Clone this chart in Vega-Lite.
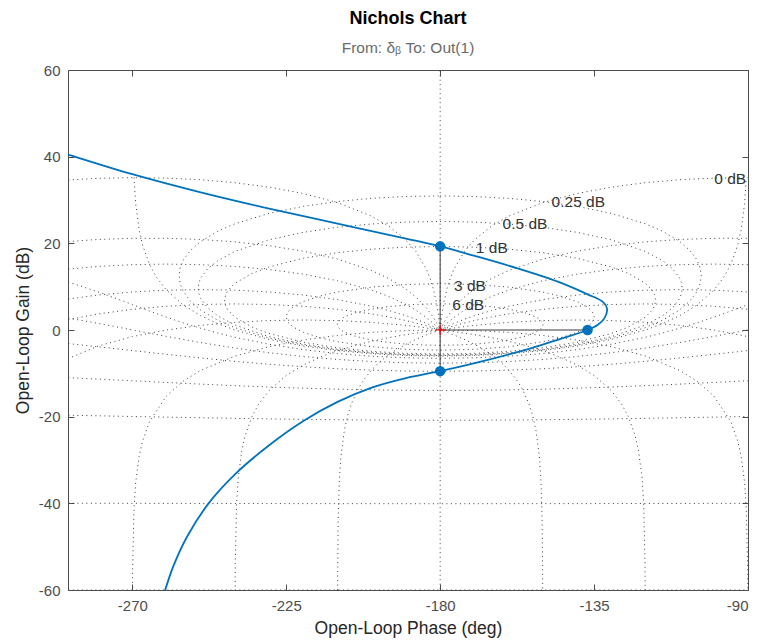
{
  "$schema": "https://vega.github.io/schema/vega-lite/v6.json",
  "width": 680,
  "height": 520,
  "autosize": {"type": "none"},
  "padding": {"left": 68, "top": 70, "right": 13, "bottom": 51},
  "background": "white",
  "config": {
    "font": "Liberation Sans",
    "view": {"stroke": "#4d4d4d", "strokeWidth": 1},
    "axis": {
      "grid": false,
      "domain": false,
      "ticks": true,
      "tickSize": -6,
      "tickColor": "#4d4d4d",
      "labelColor": "#4d4d4d",
      "labelFont": "Liberation Sans",
      "labelFontSize": 15,
      "labelPadding": 14,
      "labelExpr": "'' + datum.value",
      "titleFont": "Liberation Sans",
      "titleFontSize": 17.5,
      "titleFontWeight": "normal",
      "titleColor": "#262626",
      "zindex": 1
    }
  },
  "title": {
    "text": "Nichols Chart",
    "subtitle": "From: δᵦ  To: Out(1)",
    "anchor": "middle",
    "frame": "group",
    "font": "Liberation Sans",
    "fontSize": 18,
    "fontWeight": "bold",
    "color": "#000000",
    "subtitleFont": "Liberation Sans",
    "subtitleFontSize": 15.5,
    "subtitleColor": "#6b6b6b",
    "subtitlePadding": 13,
    "offset": 7
  },
  "datasets": {
    "grid": [
      {"curve": "n1", "phase": -290, "gain": 34.57}, {"curve": "n1", "phase": -280, "gain": 35.0}, {"curve": "n1", "phase": -270, "gain": 35.16}, {"curve": "n1", "phase": -260, "gain": 35.05}, {"curve": "n1", "phase": -250, "gain": 34.68}, {"curve": "n1", "phase": -240, "gain": 34.0}, {"curve": "n1", "phase": -230, "gain": 32.97}, {"curve": "n1", "phase": -220, "gain": 31.5}, {"curve": "n1", "phase": -210, "gain": 29.4}, {"curve": "n1", "phase": -200, "gain": 26.25}, {"curve": "n1", "phase": -195, "gain": 23.97}, {"curve": "n1", "phase": -190, "gain": 20.77}, {"curve": "n1", "phase": -187, "gain": 18.03}, {"curve": "n1", "phase": -184, "gain": 13.97}, {"curve": "n1", "phase": -183, "gain": 12.03}, {"curve": "n1", "phase": -182, "gain": 9.54}, {"curve": "n1", "phase": -181, "gain": 6.02}, {"curve": "n1", "phase": -180.5, "gain": 3.52}, {"curve": "n1", "phase": -180, "gain": 0}, {"curve": "n1", "phase": -179.5, "gain": 3.52}, {"curve": "n1", "phase": -179, "gain": 6.02}, {"curve": "n1", "phase": -178, "gain": 9.54}, {"curve": "n1", "phase": -177, "gain": 12.03}, {"curve": "n1", "phase": -176, "gain": 13.97}, {"curve": "n1", "phase": -173, "gain": 18.03}, {"curve": "n1", "phase": -170, "gain": 20.77}, {"curve": "n1", "phase": -165, "gain": 23.97}, {"curve": "n1", "phase": -160, "gain": 26.25}, {"curve": "n1", "phase": -150, "gain": 29.4}, {"curve": "n1", "phase": -140, "gain": 31.5}, {"curve": "n1", "phase": -130, "gain": 32.97}, {"curve": "n1", "phase": -120, "gain": 34.0}, {"curve": "n1", "phase": -110, "gain": 34.68}, {"curve": "n1", "phase": -100, "gain": 35.05}, {"curve": "n1", "phase": -90, "gain": 35.16}, {"curve": "n1", "phase": -80, "gain": 35.0},

      {"curve": "n5", "phase": -290, "gain": 20.34}, {"curve": "n5", "phase": -280, "gain": 20.89}, {"curve": "n5", "phase": -270, "gain": 21.16}, {"curve": "n5", "phase": -260, "gain": 21.16}, {"curve": "n5", "phase": -250, "gain": 20.89}, {"curve": "n5", "phase": -240, "gain": 20.34}, {"curve": "n5", "phase": -230, "gain": 19.46}, {"curve": "n5", "phase": -220, "gain": 18.18}, {"curve": "n5", "phase": -210, "gain": 16.37}, {"curve": "n5", "phase": -200, "gain": 13.71}, {"curve": "n5", "phase": -195, "gain": 11.88}, {"curve": "n5", "phase": -190, "gain": 9.45}, {"curve": "n5", "phase": -187, "gain": 7.55}, {"curve": "n5", "phase": -184, "gain": 5.08}, {"curve": "n5", "phase": -182, "gain": 2.91}, {"curve": "n5", "phase": -181, "gain": 1.58}, {"curve": "n5", "phase": -180, "gain": 0}, {"curve": "n5", "phase": -179, "gain": 1.58}, {"curve": "n5", "phase": -178, "gain": 2.91}, {"curve": "n5", "phase": -176, "gain": 5.08}, {"curve": "n5", "phase": -173, "gain": 7.55}, {"curve": "n5", "phase": -170, "gain": 9.45}, {"curve": "n5", "phase": -165, "gain": 11.88}, {"curve": "n5", "phase": -160, "gain": 13.71}, {"curve": "n5", "phase": -150, "gain": 16.37}, {"curve": "n5", "phase": -140, "gain": 18.18}, {"curve": "n5", "phase": -130, "gain": 19.46}, {"curve": "n5", "phase": -120, "gain": 20.34}, {"curve": "n5", "phase": -110, "gain": 20.89}, {"curve": "n5", "phase": -100, "gain": 21.16}, {"curve": "n5", "phase": -90, "gain": 21.16}, {"curve": "n5", "phase": -80, "gain": 20.89},

      {"curve": "n10", "phase": -290, "gain": 13.96}, {"curve": "n10", "phase": -280, "gain": 14.67}, {"curve": "n10", "phase": -270, "gain": 15.07}, {"curve": "n10", "phase": -260, "gain": 15.21}, {"curve": "n10", "phase": -250, "gain": 15.07}, {"curve": "n10", "phase": -240, "gain": 14.67}, {"curve": "n10", "phase": -230, "gain": 13.96}, {"curve": "n10", "phase": -220, "gain": 12.89}, {"curve": "n10", "phase": -210, "gain": 11.37}, {"curve": "n10", "phase": -200, "gain": 9.19}, {"curve": "n10", "phase": -195, "gain": 7.73}, {"curve": "n10", "phase": -190, "gain": 5.89}, {"curve": "n10", "phase": -187, "gain": 4.53}, {"curve": "n10", "phase": -184, "gain": 2.88}, {"curve": "n10", "phase": -182, "gain": 1.56}, {"curve": "n10", "phase": -180, "gain": 0}, {"curve": "n10", "phase": -178, "gain": 1.56}, {"curve": "n10", "phase": -176, "gain": 2.88}, {"curve": "n10", "phase": -173, "gain": 4.53}, {"curve": "n10", "phase": -170, "gain": 5.89}, {"curve": "n10", "phase": -165, "gain": 7.73}, {"curve": "n10", "phase": -160, "gain": 9.19}, {"curve": "n10", "phase": -150, "gain": 11.37}, {"curve": "n10", "phase": -140, "gain": 12.89}, {"curve": "n10", "phase": -130, "gain": 13.96}, {"curve": "n10", "phase": -120, "gain": 14.67}, {"curve": "n10", "phase": -110, "gain": 15.07}, {"curve": "n10", "phase": -100, "gain": 15.21}, {"curve": "n10", "phase": -90, "gain": 15.07}, {"curve": "n10", "phase": -80, "gain": 14.67},

      {"curve": "n20", "phase": -290, "gain": 7.0}, {"curve": "n20", "phase": -280, "gain": 8.07}, {"curve": "n20", "phase": -270, "gain": 8.78}, {"curve": "n20", "phase": -260, "gain": 9.19}, {"curve": "n20", "phase": -250, "gain": 9.32}, {"curve": "n20", "phase": -240, "gain": 9.19}, {"curve": "n20", "phase": -230, "gain": 8.78}, {"curve": "n20", "phase": -220, "gain": 8.07}, {"curve": "n20", "phase": -210, "gain": 7.0}, {"curve": "n20", "phase": -200, "gain": 5.48}, {"curve": "n20", "phase": -195, "gain": 4.49}, {"curve": "n20", "phase": -190, "gain": 3.3}, {"curve": "n20", "phase": -187, "gain": 2.46}, {"curve": "n20", "phase": -184, "gain": 1.51}, {"curve": "n20", "phase": -182, "gain": 0.79}, {"curve": "n20", "phase": -180, "gain": 0}, {"curve": "n20", "phase": -178, "gain": 0.79}, {"curve": "n20", "phase": -176, "gain": 1.51}, {"curve": "n20", "phase": -173, "gain": 2.46}, {"curve": "n20", "phase": -170, "gain": 3.3}, {"curve": "n20", "phase": -165, "gain": 4.49}, {"curve": "n20", "phase": -160, "gain": 5.48}, {"curve": "n20", "phase": -150, "gain": 7.0}, {"curve": "n20", "phase": -140, "gain": 8.07}, {"curve": "n20", "phase": -130, "gain": 8.78}, {"curve": "n20", "phase": -120, "gain": 9.19}, {"curve": "n20", "phase": -110, "gain": 9.32}, {"curve": "n20", "phase": -100, "gain": 9.19}, {"curve": "n20", "phase": -90, "gain": 8.78}, {"curve": "n20", "phase": -80, "gain": 8.07},

      {"curve": "n30", "phase": -290, "gain": 2.18}, {"curve": "n30", "phase": -280, "gain": 3.71}, {"curve": "n30", "phase": -270, "gain": 4.77}, {"curve": "n30", "phase": -260, "gain": 5.48}, {"curve": "n30", "phase": -250, "gain": 5.89}, {"curve": "n30", "phase": -240, "gain": 6.02}, {"curve": "n30", "phase": -230, "gain": 5.89}, {"curve": "n30", "phase": -220, "gain": 5.48}, {"curve": "n30", "phase": -210, "gain": 4.77}, {"curve": "n30", "phase": -200, "gain": 3.71}, {"curve": "n30", "phase": -195, "gain": 3.01}, {"curve": "n30", "phase": -190, "gain": 2.18}, {"curve": "n30", "phase": -185, "gain": 1.19}, {"curve": "n30", "phase": -180, "gain": 0}, {"curve": "n30", "phase": -175, "gain": 1.19}, {"curve": "n30", "phase": -170, "gain": 2.18}, {"curve": "n30", "phase": -165, "gain": 3.01}, {"curve": "n30", "phase": -160, "gain": 3.71}, {"curve": "n30", "phase": -150, "gain": 4.77}, {"curve": "n30", "phase": -140, "gain": 5.48}, {"curve": "n30", "phase": -130, "gain": 5.89}, {"curve": "n30", "phase": -120, "gain": 6.02}, {"curve": "n30", "phase": -110, "gain": 5.89}, {"curve": "n30", "phase": -100, "gain": 5.48}, {"curve": "n30", "phase": -90, "gain": 4.77}, {"curve": "n30", "phase": -80, "gain": 3.71},

      {"curve": "n50", "phase": -290, "gain": -7.0}, {"curve": "n50", "phase": -280, "gain": -3.71}, {"curve": "n50", "phase": -270, "gain": -1.52}, {"curve": "n50", "phase": -260, "gain": 0}, {"curve": "n50", "phase": -250, "gain": 1.07}, {"curve": "n50", "phase": -240, "gain": 1.77}, {"curve": "n50", "phase": -230, "gain": 2.18}, {"curve": "n50", "phase": -220, "gain": 2.31}, {"curve": "n50", "phase": -210, "gain": 2.18}, {"curve": "n50", "phase": -200, "gain": 1.77}, {"curve": "n50", "phase": -190, "gain": 1.07}, {"curve": "n50", "phase": -185, "gain": 0.58}, {"curve": "n50", "phase": -180, "gain": 0}, {"curve": "n50", "phase": -175, "gain": 0.58}, {"curve": "n50", "phase": -170, "gain": 1.07}, {"curve": "n50", "phase": -160, "gain": 1.77}, {"curve": "n50", "phase": -150, "gain": 2.18}, {"curve": "n50", "phase": -140, "gain": 2.31}, {"curve": "n50", "phase": -130, "gain": 2.18}, {"curve": "n50", "phase": -120, "gain": 1.77}, {"curve": "n50", "phase": -110, "gain": 1.07}, {"curve": "n50", "phase": -100, "gain": 0}, {"curve": "n50", "phase": -90, "gain": -1.52}, {"curve": "n50", "phase": -80, "gain": -3.71},

      {"curve": "n90", "phase": -269.97, "gain": -65.62}, {"curve": "n90", "phase": -269.9, "gain": -55.16}, {"curve": "n90", "phase": -269.5, "gain": -41.18}, {"curve": "n90", "phase": -269, "gain": -35.16}, {"curve": "n90", "phase": -268, "gain": -29.14}, {"curve": "n90", "phase": -267, "gain": -25.62}, {"curve": "n90", "phase": -265, "gain": -21.19}, {"curve": "n90", "phase": -260, "gain": -15.21}, {"curve": "n90", "phase": -255, "gain": -11.74}, {"curve": "n90", "phase": -250, "gain": -9.32}, {"curve": "n90", "phase": -240, "gain": -6.02}, {"curve": "n90", "phase": -230, "gain": -3.84}, {"curve": "n90", "phase": -220, "gain": -2.31}, {"curve": "n90", "phase": -210, "gain": -1.25}, {"curve": "n90", "phase": -200, "gain": -0.54}, {"curve": "n90", "phase": -190, "gain": -0.13}, {"curve": "n90", "phase": -180, "gain": 0}, {"curve": "n90", "phase": -170, "gain": -0.13}, {"curve": "n90", "phase": -160, "gain": -0.54}, {"curve": "n90", "phase": -150, "gain": -1.25}, {"curve": "n90", "phase": -140, "gain": -2.31}, {"curve": "n90", "phase": -130, "gain": -3.84}, {"curve": "n90", "phase": -120, "gain": -6.02}, {"curve": "n90", "phase": -110, "gain": -9.32}, {"curve": "n90", "phase": -105, "gain": -11.74}, {"curve": "n90", "phase": -100, "gain": -15.21}, {"curve": "n90", "phase": -95, "gain": -21.19}, {"curve": "n90", "phase": -93, "gain": -25.62}, {"curve": "n90", "phase": -92, "gain": -29.14}, {"curve": "n90", "phase": -91, "gain": -35.16}, {"curve": "n90", "phase": -90.5, "gain": -41.18}, {"curve": "n90", "phase": -90.1, "gain": -55.16}, {"curve": "n90", "phase": -90.03, "gain": -65.62},

      {"curve": "n120", "phase": -239.97, "gain": -64.37}, {"curve": "n120", "phase": -239.9, "gain": -53.91}, {"curve": "n120", "phase": -239.5, "gain": -39.93}, {"curve": "n120", "phase": -239, "gain": -33.91}, {"curve": "n120", "phase": -238, "gain": -27.89}, {"curve": "n120", "phase": -237, "gain": -24.37}, {"curve": "n120", "phase": -235, "gain": -19.94}, {"curve": "n120", "phase": -233, "gain": -17.03}, {"curve": "n120", "phase": -230, "gain": -13.96}, {"curve": "n120", "phase": -225, "gain": -10.49}, {"curve": "n120", "phase": -220, "gain": -8.07}, {"curve": "n120", "phase": -215, "gain": -6.23}, {"curve": "n120", "phase": -210, "gain": -4.77}, {"curve": "n120", "phase": -205, "gain": -3.58}, {"curve": "n120", "phase": -200, "gain": -2.59}, {"curve": "n120", "phase": -195, "gain": -1.76}, {"curve": "n120", "phase": -190, "gain": -1.07}, {"curve": "n120", "phase": -185, "gain": -0.48}, {"curve": "n120", "phase": -180, "gain": 0}, {"curve": "n120", "phase": -175, "gain": -0.48}, {"curve": "n120", "phase": -170, "gain": -1.07}, {"curve": "n120", "phase": -165, "gain": -1.76}, {"curve": "n120", "phase": -160, "gain": -2.59}, {"curve": "n120", "phase": -155, "gain": -3.58}, {"curve": "n120", "phase": -150, "gain": -4.77}, {"curve": "n120", "phase": -145, "gain": -6.23}, {"curve": "n120", "phase": -140, "gain": -8.07}, {"curve": "n120", "phase": -135, "gain": -10.49}, {"curve": "n120", "phase": -130, "gain": -13.96}, {"curve": "n120", "phase": -127, "gain": -17.03}, {"curve": "n120", "phase": -125, "gain": -19.94}, {"curve": "n120", "phase": -123, "gain": -24.37}, {"curve": "n120", "phase": -122, "gain": -27.89}, {"curve": "n120", "phase": -121, "gain": -33.91}, {"curve": "n120", "phase": -120.5, "gain": -39.93}, {"curve": "n120", "phase": -120.1, "gain": -53.91}, {"curve": "n120", "phase": -120.03, "gain": -64.37},

      {"curve": "n150", "phase": -209.98, "gain": -63.12}, {"curve": "n150", "phase": -209.95, "gain": -55.16}, {"curve": "n150", "phase": -209.8, "gain": -43.12}, {"curve": "n150", "phase": -209.5, "gain": -35.16}, {"curve": "n150", "phase": -209, "gain": -29.14}, {"curve": "n150", "phase": -208, "gain": -23.12}, {"curve": "n150", "phase": -207, "gain": -19.6}, {"curve": "n150", "phase": -206, "gain": -17.11}, {"curve": "n150", "phase": -204, "gain": -13.59}, {"curve": "n150", "phase": -202, "gain": -11.11}, {"curve": "n150", "phase": -200, "gain": -9.19}, {"curve": "n150", "phase": -198, "gain": -7.62}, {"curve": "n150", "phase": -196, "gain": -6.31}, {"curve": "n150", "phase": -194, "gain": -5.17}, {"curve": "n150", "phase": -192, "gain": -4.18}, {"curve": "n150", "phase": -190, "gain": -3.3}, {"curve": "n150", "phase": -188, "gain": -2.51}, {"curve": "n150", "phase": -186, "gain": -1.79}, {"curve": "n150", "phase": -184, "gain": -1.14}, {"curve": "n150", "phase": -182, "gain": -0.55}, {"curve": "n150", "phase": -180, "gain": 0}, {"curve": "n150", "phase": -178, "gain": -0.55}, {"curve": "n150", "phase": -176, "gain": -1.14}, {"curve": "n150", "phase": -174, "gain": -1.79}, {"curve": "n150", "phase": -172, "gain": -2.51}, {"curve": "n150", "phase": -170, "gain": -3.3}, {"curve": "n150", "phase": -168, "gain": -4.18}, {"curve": "n150", "phase": -166, "gain": -5.17}, {"curve": "n150", "phase": -164, "gain": -6.31}, {"curve": "n150", "phase": -162, "gain": -7.62}, {"curve": "n150", "phase": -160, "gain": -9.19}, {"curve": "n150", "phase": -158, "gain": -11.11}, {"curve": "n150", "phase": -156, "gain": -13.59}, {"curve": "n150", "phase": -154, "gain": -17.11}, {"curve": "n150", "phase": -153, "gain": -19.6}, {"curve": "n150", "phase": -152, "gain": -23.12}, {"curve": "n150", "phase": -151, "gain": -29.14}, {"curve": "n150", "phase": -150.5, "gain": -35.16}, {"curve": "n150", "phase": -150.2, "gain": -43.12}, {"curve": "n150", "phase": -150.05, "gain": -55.16}, {"curve": "n150", "phase": -150.02, "gain": -63.12},

      {"curve": "n180", "phase": -180, "gain": -65}, {"curve": "n180", "phase": -180, "gain": 65},

      {"curve": "m6", "phase": -180, "gain": 6.04}, {"curve": "m6", "phase": -175, "gain": 5.97}, {"curve": "m6", "phase": -170, "gain": 5.77}, {"curve": "m6", "phase": -165, "gain": 5.4}, {"curve": "m6", "phase": -160, "gain": 4.83}, {"curve": "m6", "phase": -155, "gain": 3.92}, {"curve": "m6", "phase": -152, "gain": 3.01}, {"curve": "m6", "phase": -151, "gain": 2.53}, {"curve": "m6", "phase": -150.2, "gain": 1.89}, {"curve": "m6", "phase": -149.92, "gain": 1.26}, {"curve": "m6", "phase": -150.2, "gain": 0.63}, {"curve": "m6", "phase": -151, "gain": -0.01}, {"curve": "m6", "phase": -152, "gain": -0.49}, {"curve": "m6", "phase": -155, "gain": -1.41}, {"curve": "m6", "phase": -160, "gain": -2.32}, {"curve": "m6", "phase": -165, "gain": -2.89}, {"curve": "m6", "phase": -170, "gain": -3.26}, {"curve": "m6", "phase": -175, "gain": -3.46}, {"curve": "m6", "phase": -180, "gain": -3.53}, {"curve": "m6", "phase": -185, "gain": -3.46}, {"curve": "m6", "phase": -190, "gain": -3.26}, {"curve": "m6", "phase": -195, "gain": -2.89}, {"curve": "m6", "phase": -200, "gain": -2.32}, {"curve": "m6", "phase": -205, "gain": -1.41}, {"curve": "m6", "phase": -208, "gain": -0.49}, {"curve": "m6", "phase": -209, "gain": -0.01}, {"curve": "m6", "phase": -209.8, "gain": 0.63}, {"curve": "m6", "phase": -210.08, "gain": 1.26}, {"curve": "m6", "phase": -209.8, "gain": 1.89}, {"curve": "m6", "phase": -209, "gain": 2.53}, {"curve": "m6", "phase": -208, "gain": 3.01}, {"curve": "m6", "phase": -205, "gain": 3.92}, {"curve": "m6", "phase": -200, "gain": 4.83}, {"curve": "m6", "phase": -195, "gain": 5.4}, {"curve": "m6", "phase": -190, "gain": 5.77}, {"curve": "m6", "phase": -185, "gain": 5.97}, {"curve": "m6", "phase": -180, "gain": 6.04},

      {"curve": "m3", "phase": -180, "gain": 10.69}, {"curve": "m3", "phase": -170, "gain": 10.5}, {"curve": "m3", "phase": -160, "gain": 9.9}, {"curve": "m3", "phase": -150, "gain": 8.76}, {"curve": "m3", "phase": -145, "gain": 7.87}, {"curve": "m3", "phase": -140, "gain": 6.57}, {"curve": "m3", "phase": -137, "gain": 5.33}, {"curve": "m3", "phase": -135.5, "gain": 4.24}, {"curve": "m3", "phase": -134.93, "gain": 3.02}, {"curve": "m3", "phase": -135.5, "gain": 1.8}, {"curve": "m3", "phase": -137, "gain": 0.71}, {"curve": "m3", "phase": -140, "gain": -0.53}, {"curve": "m3", "phase": -145, "gain": -1.83}, {"curve": "m3", "phase": -150, "gain": -2.72}, {"curve": "m3", "phase": -160, "gain": -3.86}, {"curve": "m3", "phase": -170, "gain": -4.46}, {"curve": "m3", "phase": -180, "gain": -4.65}, {"curve": "m3", "phase": -190, "gain": -4.46}, {"curve": "m3", "phase": -200, "gain": -3.86}, {"curve": "m3", "phase": -210, "gain": -2.72}, {"curve": "m3", "phase": -215, "gain": -1.83}, {"curve": "m3", "phase": -220, "gain": -0.53}, {"curve": "m3", "phase": -223, "gain": 0.71}, {"curve": "m3", "phase": -224.5, "gain": 1.8}, {"curve": "m3", "phase": -225.07, "gain": 3.02}, {"curve": "m3", "phase": -224.5, "gain": 4.24}, {"curve": "m3", "phase": -223, "gain": 5.33}, {"curve": "m3", "phase": -220, "gain": 6.57}, {"curve": "m3", "phase": -215, "gain": 7.87}, {"curve": "m3", "phase": -210, "gain": 8.76}, {"curve": "m3", "phase": -200, "gain": 9.9}, {"curve": "m3", "phase": -190, "gain": 10.5}, {"curve": "m3", "phase": -180, "gain": 10.69},

      {"curve": "m1", "phase": -180, "gain": 19.27}, {"curve": "m1", "phase": -170, "gain": 19.12}, {"curve": "m1", "phase": -160, "gain": 18.66}, {"curve": "m1", "phase": -150, "gain": 17.84}, {"curve": "m1", "phase": -140, "gain": 16.56}, {"curve": "m1", "phase": -130, "gain": 14.55}, {"curve": "m1", "phase": -125, "gain": 13.06}, {"curve": "m1", "phase": -120, "gain": 10.77}, {"curve": "m1", "phase": -118, "gain": 9.16}, {"curve": "m1", "phase": -117.3, "gain": 8.17}, {"curve": "m1", "phase": -116.97, "gain": 6.87}, {"curve": "m1", "phase": -117.3, "gain": 5.56}, {"curve": "m1", "phase": -118, "gain": 4.57}, {"curve": "m1", "phase": -120, "gain": 2.97}, {"curve": "m1", "phase": -125, "gain": 0.68}, {"curve": "m1", "phase": -130, "gain": -0.81}, {"curve": "m1", "phase": -140, "gain": -2.82}, {"curve": "m1", "phase": -150, "gain": -4.1}, {"curve": "m1", "phase": -160, "gain": -4.92}, {"curve": "m1", "phase": -170, "gain": -5.39}, {"curve": "m1", "phase": -180, "gain": -5.53}, {"curve": "m1", "phase": -190, "gain": -5.39}, {"curve": "m1", "phase": -200, "gain": -4.92}, {"curve": "m1", "phase": -210, "gain": -4.1}, {"curve": "m1", "phase": -220, "gain": -2.82}, {"curve": "m1", "phase": -230, "gain": -0.81}, {"curve": "m1", "phase": -235, "gain": 0.68}, {"curve": "m1", "phase": -240, "gain": 2.97}, {"curve": "m1", "phase": -242, "gain": 4.57}, {"curve": "m1", "phase": -242.7, "gain": 5.56}, {"curve": "m1", "phase": -243.03, "gain": 6.87}, {"curve": "m1", "phase": -242.7, "gain": 8.17}, {"curve": "m1", "phase": -242, "gain": 9.16}, {"curve": "m1", "phase": -240, "gain": 10.77}, {"curve": "m1", "phase": -235, "gain": 13.06}, {"curve": "m1", "phase": -230, "gain": 14.55}, {"curve": "m1", "phase": -220, "gain": 16.56}, {"curve": "m1", "phase": -210, "gain": 17.84}, {"curve": "m1", "phase": -200, "gain": 18.66}, {"curve": "m1", "phase": -190, "gain": 19.12}, {"curve": "m1", "phase": -180, "gain": 19.27},

      {"curve": "m05", "phase": -180, "gain": 25.05}, {"curve": "m05", "phase": -170, "gain": 24.9}, {"curve": "m05", "phase": -160, "gain": 24.47}, {"curve": "m05", "phase": -150, "gain": 23.71}, {"curve": "m05", "phase": -140, "gain": 22.54}, {"curve": "m05", "phase": -130, "gain": 20.82}, {"curve": "m05", "phase": -120, "gain": 18.12}, {"curve": "m05", "phase": -115, "gain": 16.01}, {"curve": "m05", "phase": -112, "gain": 14.11}, {"curve": "m05", "phase": -110, "gain": 12.0}, {"curve": "m05", "phase": -109.5, "gain": 10.99}, {"curve": "m05", "phase": -109.26, "gain": 9.64}, {"curve": "m05", "phase": -109.5, "gain": 8.28}, {"curve": "m05", "phase": -110, "gain": 7.28}, {"curve": "m05", "phase": -112, "gain": 5.16}, {"curve": "m05", "phase": -115, "gain": 3.26}, {"curve": "m05", "phase": -120, "gain": 1.15}, {"curve": "m05", "phase": -130, "gain": -1.55}, {"curve": "m05", "phase": -140, "gain": -3.27}, {"curve": "m05", "phase": -150, "gain": -4.44}, {"curve": "m05", "phase": -160, "gain": -5.2}, {"curve": "m05", "phase": -170, "gain": -5.63}, {"curve": "m05", "phase": -180, "gain": -5.77}, {"curve": "m05", "phase": -190, "gain": -5.63}, {"curve": "m05", "phase": -200, "gain": -5.2}, {"curve": "m05", "phase": -210, "gain": -4.44}, {"curve": "m05", "phase": -220, "gain": -3.27}, {"curve": "m05", "phase": -230, "gain": -1.55}, {"curve": "m05", "phase": -240, "gain": 1.15}, {"curve": "m05", "phase": -245, "gain": 3.26}, {"curve": "m05", "phase": -248, "gain": 5.16}, {"curve": "m05", "phase": -250, "gain": 7.28}, {"curve": "m05", "phase": -250.5, "gain": 8.28}, {"curve": "m05", "phase": -250.74, "gain": 9.64}, {"curve": "m05", "phase": -250.5, "gain": 10.99}, {"curve": "m05", "phase": -250, "gain": 12.0}, {"curve": "m05", "phase": -248, "gain": 14.11}, {"curve": "m05", "phase": -245, "gain": 16.01}, {"curve": "m05", "phase": -240, "gain": 18.12}, {"curve": "m05", "phase": -230, "gain": 20.82}, {"curve": "m05", "phase": -220, "gain": 22.54}, {"curve": "m05", "phase": -210, "gain": 23.71}, {"curve": "m05", "phase": -200, "gain": 24.47}, {"curve": "m05", "phase": -190, "gain": 24.9}, {"curve": "m05", "phase": -180, "gain": 25.05},

      {"curve": "m025", "phase": -180, "gain": 30.94}, {"curve": "m025", "phase": -170, "gain": 30.81}, {"curve": "m025", "phase": -160, "gain": 30.39}, {"curve": "m025", "phase": -150, "gain": 29.65}, {"curve": "m025", "phase": -140, "gain": 28.54}, {"curve": "m025", "phase": -130, "gain": 26.92}, {"curve": "m025", "phase": -120, "gain": 24.51}, {"curve": "m025", "phase": -115, "gain": 22.81}, {"curve": "m025", "phase": -110, "gain": 20.45}, {"curve": "m025", "phase": -107, "gain": 18.38}, {"curve": "m025", "phase": -105, "gain": 16.27}, {"curve": "m025", "phase": -104, "gain": 14.38}, {"curve": "m025", "phase": -103.68, "gain": 12.52}, {"curve": "m025", "phase": -104, "gain": 10.67}, {"curve": "m025", "phase": -105, "gain": 8.78}, {"curve": "m025", "phase": -107, "gain": 6.67}, {"curve": "m025", "phase": -110, "gain": 4.6}, {"curve": "m025", "phase": -115, "gain": 2.24}, {"curve": "m025", "phase": -120, "gain": 0.53}, {"curve": "m025", "phase": -130, "gain": -1.87}, {"curve": "m025", "phase": -140, "gain": -3.49}, {"curve": "m025", "phase": -150, "gain": -4.6}, {"curve": "m025", "phase": -160, "gain": -5.34}, {"curve": "m025", "phase": -170, "gain": -5.76}, {"curve": "m025", "phase": -180, "gain": -5.9}, {"curve": "m025", "phase": -190, "gain": -5.76}, {"curve": "m025", "phase": -200, "gain": -5.34}, {"curve": "m025", "phase": -210, "gain": -4.6}, {"curve": "m025", "phase": -220, "gain": -3.49}, {"curve": "m025", "phase": -230, "gain": -1.87}, {"curve": "m025", "phase": -240, "gain": 0.53}, {"curve": "m025", "phase": -245, "gain": 2.24}, {"curve": "m025", "phase": -250, "gain": 4.6}, {"curve": "m025", "phase": -253, "gain": 6.67}, {"curve": "m025", "phase": -255, "gain": 8.78}, {"curve": "m025", "phase": -256, "gain": 10.67}, {"curve": "m025", "phase": -256.32, "gain": 12.52}, {"curve": "m025", "phase": -256, "gain": 14.38}, {"curve": "m025", "phase": -255, "gain": 16.27}, {"curve": "m025", "phase": -253, "gain": 18.38}, {"curve": "m025", "phase": -250, "gain": 20.45}, {"curve": "m025", "phase": -245, "gain": 22.81}, {"curve": "m025", "phase": -240, "gain": 24.51}, {"curve": "m025", "phase": -230, "gain": 26.92}, {"curve": "m025", "phase": -220, "gain": 28.54}, {"curve": "m025", "phase": -210, "gain": 29.65}, {"curve": "m025", "phase": -200, "gain": 30.39}, {"curve": "m025", "phase": -190, "gain": 30.81}, {"curve": "m025", "phase": -180, "gain": 30.94},

      {"curve": "m0", "phase": -269.5, "gain": 35.16}, {"curve": "m0", "phase": -269, "gain": 29.14}, {"curve": "m0", "phase": -268, "gain": 23.12}, {"curve": "m0", "phase": -267, "gain": 19.6}, {"curve": "m0", "phase": -265, "gain": 15.17}, {"curve": "m0", "phase": -263, "gain": 12.26}, {"curve": "m0", "phase": -260, "gain": 9.19}, {"curve": "m0", "phase": -255, "gain": 5.72}, {"curve": "m0", "phase": -250, "gain": 3.3}, {"curve": "m0", "phase": -245, "gain": 1.46}, {"curve": "m0", "phase": -240, "gain": 0}, {"curve": "m0", "phase": -230, "gain": -2.18}, {"curve": "m0", "phase": -220, "gain": -3.71}, {"curve": "m0", "phase": -210, "gain": -4.77}, {"curve": "m0", "phase": -200, "gain": -5.48}, {"curve": "m0", "phase": -190, "gain": -5.89}, {"curve": "m0", "phase": -180, "gain": -6.02}, {"curve": "m0", "phase": -170, "gain": -5.89}, {"curve": "m0", "phase": -160, "gain": -5.48}, {"curve": "m0", "phase": -150, "gain": -4.77}, {"curve": "m0", "phase": -140, "gain": -3.71}, {"curve": "m0", "phase": -130, "gain": -2.18}, {"curve": "m0", "phase": -120, "gain": 0}, {"curve": "m0", "phase": -115, "gain": 1.46}, {"curve": "m0", "phase": -110, "gain": 3.3}, {"curve": "m0", "phase": -105, "gain": 5.72}, {"curve": "m0", "phase": -100, "gain": 9.19}, {"curve": "m0", "phase": -97, "gain": 12.26}, {"curve": "m0", "phase": -95, "gain": 15.17}, {"curve": "m0", "phase": -93, "gain": 19.6}, {"curve": "m0", "phase": -92, "gain": 23.12}, {"curve": "m0", "phase": -91, "gain": 29.14}, {"curve": "m0", "phase": -90.5, "gain": 35.16},

      {"curve": "mm1", "phase": -290, "gain": 11.34}, {"curve": "mm1", "phase": -285, "gain": 10.12}, {"curve": "mm1", "phase": -280, "gain": 8.78}, {"curve": "mm1", "phase": -275, "gain": 7.35}, {"curve": "mm1", "phase": -270, "gain": 5.87}, {"curve": "mm1", "phase": -265, "gain": 4.39}, {"curve": "mm1", "phase": -260, "gain": 2.96}, {"curve": "mm1", "phase": -255, "gain": 1.62}, {"curve": "mm1", "phase": -250, "gain": 0.4}, {"curve": "mm1", "phase": -245, "gain": -0.7}, {"curve": "mm1", "phase": -240, "gain": -1.68}, {"curve": "mm1", "phase": -230, "gain": -3.3}, {"curve": "mm1", "phase": -220, "gain": -4.53}, {"curve": "mm1", "phase": -210, "gain": -5.44}, {"curve": "mm1", "phase": -200, "gain": -6.06}, {"curve": "mm1", "phase": -190, "gain": -6.42}, {"curve": "mm1", "phase": -180, "gain": -6.54}, {"curve": "mm1", "phase": -170, "gain": -6.42}, {"curve": "mm1", "phase": -160, "gain": -6.06}, {"curve": "mm1", "phase": -150, "gain": -5.44}, {"curve": "mm1", "phase": -140, "gain": -4.53}, {"curve": "mm1", "phase": -130, "gain": -3.3}, {"curve": "mm1", "phase": -120, "gain": -1.68}, {"curve": "mm1", "phase": -115, "gain": -0.7}, {"curve": "mm1", "phase": -110, "gain": 0.4}, {"curve": "mm1", "phase": -105, "gain": 1.62}, {"curve": "mm1", "phase": -100, "gain": 2.96}, {"curve": "mm1", "phase": -95, "gain": 4.39}, {"curve": "mm1", "phase": -90, "gain": 5.87}, {"curve": "mm1", "phase": -85, "gain": 7.35}, {"curve": "mm1", "phase": -80, "gain": 8.78},

      {"curve": "mm3", "phase": -290, "gain": 2.94}, {"curve": "mm3", "phase": -280, "gain": 1.53}, {"curve": "mm3", "phase": -270, "gain": 0.02}, {"curve": "mm3", "phase": -260, "gain": -1.48}, {"curve": "mm3", "phase": -250, "gain": -2.9}, {"curve": "mm3", "phase": -240, "gain": -4.17}, {"curve": "mm3", "phase": -230, "gain": -5.25}, {"curve": "mm3", "phase": -220, "gain": -6.12}, {"curve": "mm3", "phase": -210, "gain": -6.8}, {"curve": "mm3", "phase": -200, "gain": -7.27}, {"curve": "mm3", "phase": -190, "gain": -7.56}, {"curve": "mm3", "phase": -180, "gain": -7.65}, {"curve": "mm3", "phase": -170, "gain": -7.56}, {"curve": "mm3", "phase": -160, "gain": -7.27}, {"curve": "mm3", "phase": -150, "gain": -6.8}, {"curve": "mm3", "phase": -140, "gain": -6.12}, {"curve": "mm3", "phase": -130, "gain": -5.25}, {"curve": "mm3", "phase": -120, "gain": -4.17}, {"curve": "mm3", "phase": -110, "gain": -2.9}, {"curve": "mm3", "phase": -100, "gain": -1.48}, {"curve": "mm3", "phase": -90, "gain": 0.02}, {"curve": "mm3", "phase": -80, "gain": 1.53},

      {"curve": "mm6", "phase": -290, "gain": -3.03}, {"curve": "mm6", "phase": -280, "gain": -3.87}, {"curve": "mm6", "phase": -270, "gain": -4.74}, {"curve": "mm6", "phase": -260, "gain": -5.62}, {"curve": "mm6", "phase": -250, "gain": -6.45}, {"curve": "mm6", "phase": -240, "gain": -7.23}, {"curve": "mm6", "phase": -230, "gain": -7.91}, {"curve": "mm6", "phase": -220, "gain": -8.48}, {"curve": "mm6", "phase": -210, "gain": -8.94}, {"curve": "mm6", "phase": -200, "gain": -9.26}, {"curve": "mm6", "phase": -190, "gain": -9.46}, {"curve": "mm6", "phase": -180, "gain": -9.53}, {"curve": "mm6", "phase": -170, "gain": -9.46}, {"curve": "mm6", "phase": -160, "gain": -9.26}, {"curve": "mm6", "phase": -150, "gain": -8.94}, {"curve": "mm6", "phase": -140, "gain": -8.48}, {"curve": "mm6", "phase": -130, "gain": -7.91}, {"curve": "mm6", "phase": -120, "gain": -7.23}, {"curve": "mm6", "phase": -110, "gain": -6.45}, {"curve": "mm6", "phase": -100, "gain": -5.62}, {"curve": "mm6", "phase": -90, "gain": -4.74}, {"curve": "mm6", "phase": -80, "gain": -3.87},

      {"curve": "mm12", "phase": -290, "gain": -10.95}, {"curve": "mm12", "phase": -280, "gain": -11.33}, {"curve": "mm12", "phase": -270, "gain": -11.72}, {"curve": "mm12", "phase": -260, "gain": -12.11}, {"curve": "mm12", "phase": -250, "gain": -12.49}, {"curve": "mm12", "phase": -240, "gain": -12.84}, {"curve": "mm12", "phase": -230, "gain": -13.16}, {"curve": "mm12", "phase": -220, "gain": -13.43}, {"curve": "mm12", "phase": -210, "gain": -13.65}, {"curve": "mm12", "phase": -200, "gain": -13.81}, {"curve": "mm12", "phase": -190, "gain": -13.91}, {"curve": "mm12", "phase": -180, "gain": -13.95}, {"curve": "mm12", "phase": -170, "gain": -13.91}, {"curve": "mm12", "phase": -160, "gain": -13.81}, {"curve": "mm12", "phase": -150, "gain": -13.65}, {"curve": "mm12", "phase": -140, "gain": -13.43}, {"curve": "mm12", "phase": -130, "gain": -13.16}, {"curve": "mm12", "phase": -120, "gain": -12.84}, {"curve": "mm12", "phase": -110, "gain": -12.49}, {"curve": "mm12", "phase": -100, "gain": -12.11}, {"curve": "mm12", "phase": -90, "gain": -11.72}, {"curve": "mm12", "phase": -80, "gain": -11.33},

      {"curve": "mm20", "phase": -290, "gain": -19.66}, {"curve": "mm20", "phase": -280, "gain": -19.8}, {"curve": "mm20", "phase": -270, "gain": -19.96}, {"curve": "mm20", "phase": -255, "gain": -20.18}, {"curve": "mm20", "phase": -240, "gain": -20.39}, {"curve": "mm20", "phase": -225, "gain": -20.57}, {"curve": "mm20", "phase": -210, "gain": -20.71}, {"curve": "mm20", "phase": -195, "gain": -20.8}, {"curve": "mm20", "phase": -180, "gain": -20.83}, {"curve": "mm20", "phase": -165, "gain": -20.8}, {"curve": "mm20", "phase": -150, "gain": -20.71}, {"curve": "mm20", "phase": -135, "gain": -20.57}, {"curve": "mm20", "phase": -120, "gain": -20.39}, {"curve": "mm20", "phase": -105, "gain": -20.18}, {"curve": "mm20", "phase": -90, "gain": -19.96}, {"curve": "mm20", "phase": -80, "gain": -19.8},

      {"curve": "mm40", "phase": -290, "gain": -39.97}, {"curve": "mm40", "phase": -270, "gain": -40.0}, {"curve": "mm40", "phase": -225, "gain": -40.06}, {"curve": "mm40", "phase": -180, "gain": -40.09}, {"curve": "mm40", "phase": -135, "gain": -40.06}, {"curve": "mm40", "phase": -90, "gain": -40.0}, {"curve": "mm40", "phase": -80, "gain": -39.98},

      {"curve": "mm60", "phase": -290, "gain": -60}, {"curve": "mm60", "phase": -80, "gain": -60}
    ],
    "labels": [
      {"label": "0 dB", "phase": -95.2, "gain": 34.8},
      {"label": "0.25 dB", "phase": -139.6, "gain": 29.5},
      {"label": "0.5 dB", "phase": -155.2, "gain": 24.4},
      {"label": "1 dB", "phase": -164.9, "gain": 18.9},
      {"label": "3 dB", "phase": -171.3, "gain": 10.2},
      {"label": "6 dB", "phase": -171.8, "gain": 5.8}
    ],
    "response": [
      {"phase": -292, "gain": 41.3}, {"phase": -288.8, "gain": 40.5}, {"phase": -270, "gain": 35.95}, {"phase": -250, "gain": 31.75}, {"phase": -230, "gain": 28.0}, {"phase": -210, "gain": 24.55}, {"phase": -190, "gain": 21.1}, {"phase": -180, "gain": 19.3}, {"phase": -170.1, "gain": 17.15}, {"phase": -157.4, "gain": 14.23}, {"phase": -145.6, "gain": 11.15}, {"phase": -136.9, "gain": 8.23}, {"phase": -132.5, "gain": 6.53}, {"phase": -131.2, "gain": 4.9}, {"phase": -132, "gain": 2.69}, {"phase": -134, "gain": 1.15}, {"phase": -136.9, "gain": 0}, {"phase": -145, "gain": -2.1}, {"phase": -153.5, "gain": -4.23}, {"phase": -168.1, "gain": -7.3}, {"phase": -180, "gain": -9.5}, {"phase": -190, "gain": -11.1}, {"phase": -200, "gain": -13.3}, {"phase": -210, "gain": -16.6}, {"phase": -220, "gain": -21.0}, {"phase": -230, "gain": -26.6}, {"phase": -240, "gain": -33.3}, {"phase": -247.7, "gain": -40}, {"phase": -254, "gain": -47.7}, {"phase": -258, "gain": -54.5}, {"phase": -260.4, "gain": -60}, {"phase": -262, "gain": -64}
    ],
    "margins": [
      {"seg": "gm", "phase": -180, "gain": 19.3}, {"seg": "gm", "phase": -180, "gain": -9.5},
      {"seg": "pm", "phase": -180, "gain": 0}, {"seg": "pm", "phase": -136.9, "gain": 0}
    ],
    "crossings": [
      {"phase": -180, "gain": 19.3}, {"phase": -136.9, "gain": 0}, {"phase": -180, "gain": -9.5}
    ],
    "critical": [
      {"phase": -180, "gain": 0}
    ]
  },
  "layer": [
    {
      "data": {"name": "grid"},
      "mark": {"type": "line", "clip": true, "stroke": "#404040", "strokeWidth": 1, "strokeDash": [1, 3.5]},
      "encoding": {
        "x": {
          "field": "phase", "type": "quantitative",
          "scale": {"domain": [-288.8, -90], "nice": false, "zero": false},
          "axis": {"orient": "bottom", "values": [-270, -225, -180, -135, -90], "title": "Open-Loop Phase (deg)", "titlePadding": 6}
        },
        "y": {
          "field": "gain", "type": "quantitative",
          "scale": {"domain": [-60, 60], "nice": false, "zero": false},
          "axis": {"orient": "left", "values": [-60, -40, -20, 0, 20, 40, 60], "title": "Open-Loop Gain (dB)", "titlePadding": 6}
        },
        "detail": {"field": "curve"},
        "order": {"value": null}
      }
    },
    {
      "data": {"name": "labels"},
      "mark": {"type": "text", "font": "Liberation Sans", "fontSize": 15.5, "color": "#333333", "align": "center", "baseline": "middle"},
      "encoding": {
        "x": {"field": "phase", "type": "quantitative", "axis": null},
        "y": {"field": "gain", "type": "quantitative", "axis": null},
        "text": {"field": "label"}
      }
    },
    {
      "data": {"name": "margins"},
      "mark": {"type": "line", "stroke": "#3a3a3a", "strokeWidth": 1},
      "encoding": {
        "x": {
          "field": "phase", "type": "quantitative",
          "axis": {"orient": "top", "values": [-270, -225, -180, -135, -90], "labels": false, "title": null}
        },
        "y": {
          "field": "gain", "type": "quantitative",
          "axis": {"orient": "right", "values": [-60, -40, -20, 0, 20, 40, 60], "labels": false, "title": null}
        },
        "detail": {"field": "seg"},
        "order": {"value": null}
      }
    },
    {
      "data": {"name": "response"},
      "mark": {"type": "line", "clip": true, "interpolate": "catmull-rom", "stroke": "#0072BD", "strokeWidth": 1.8},
      "encoding": {
        "x": {"field": "phase", "type": "quantitative", "axis": null},
        "y": {"field": "gain", "type": "quantitative", "axis": null},
        "order": {"value": null}
      }
    },
    {
      "data": {"name": "crossings"},
      "mark": {"type": "point", "filled": true, "color": "#0072BD", "opacity": 1, "size": 110},
      "encoding": {
        "x": {"field": "phase", "type": "quantitative", "axis": null},
        "y": {"field": "gain", "type": "quantitative", "axis": null}
      }
    },
    {
      "data": {"name": "critical"},
      "mark": {"type": "point", "shape": "M-1,0H1M0,-1V1", "filled": false, "stroke": "#ff0000", "strokeWidth": 1.2, "opacity": 1, "size": 100},
      "encoding": {
        "x": {"field": "phase", "type": "quantitative", "axis": null},
        "y": {"field": "gain", "type": "quantitative", "axis": null}
      }
    }
  ],
  "resolve": {"axis": {"x": "independent", "y": "independent"}}
}
